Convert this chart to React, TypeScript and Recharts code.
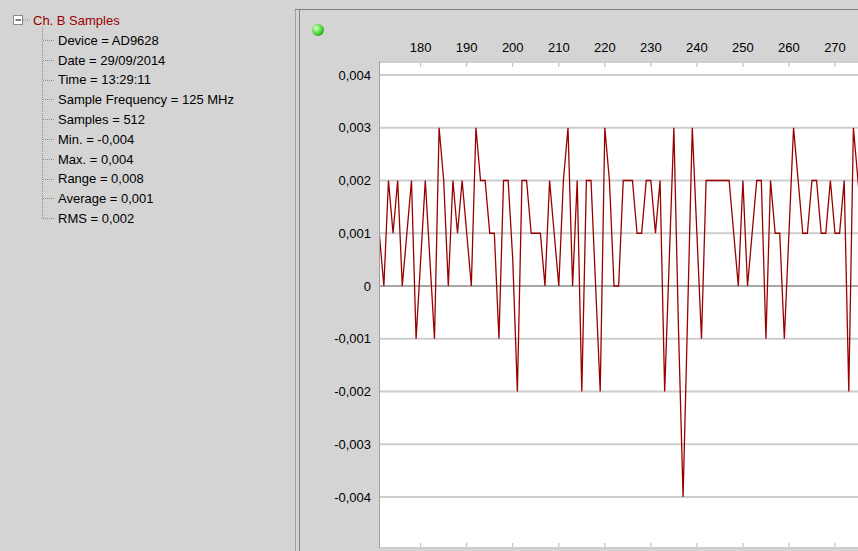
import React from 'react';
import { LineChart, Line, XAxis, YAxis, CartesianGrid, ReferenceLine } from 'recharts';

// Channel B capture, samples 171..276 (volts)
const firstSample = 171;
const sampleValues = [
  0.001, 0, 0.002, 0.001, 0.002, 0, 0.001, 0.002, -0.001, 0.0005,
  0.002, 0.0005, -0.001, 0.003, 0.002, 0, 0.002, 0.001, 0.002, 0.001,
  0, 0.003, 0.002, 0.002, 0.001, 0.001, -0.001, 0.002, 0.002, 0.0005,
  -0.002, 0.002, 0.002, 0.001, 0.001, 0.001, 0, 0.002, 0.001, 0,
  0.002, 0.003, 0, 0.002, -0.002, 0.002, 0.002, 0, -0.002, 0.003,
  0.002, 0, 0, 0.002, 0.002, 0.002, 0.001, 0.001, 0.002, 0.002,
  0.001, 0.002, -0.002, 0.0005, 0.003, -0.0008, -0.004, -0.0005, 0.003, 0.001,
  -0.001, 0.002, 0.002, 0.002, 0.002, 0.002, 0.002, 0.001, 0, 0.002,
  0, 0.001, 0.002, 0.002, -0.001, 0.002, 0.001, 0.001, -0.001, 0.001,
  0.003, 0.002, 0.001, 0.001, 0.002, 0.002, 0.001, 0.001, 0.002, 0.001,
  0.001, 0.002, -0.002, 0.003, 0.002, 0.001,
];
const sampleNumbers = sampleValues.map((_, i) => firstSample + i);

const xTicks = [180, 190, 200, 210, 220, 230, 240, 250, 260, 270];
const yTicks = [0.004, 0.003, 0.002, 0.001, 0, -0.001, -0.002, -0.003, -0.004];

const treeTitle = 'Ch. B Samples';
const treeItems = [
  'Device = AD9628',
  'Date = 29/09/2014',
  'Time = 13:29:11',
  'Sample Frequency = 125 MHz',
  'Samples = 512',
  'Min. = -0,004',
  'Max. = 0,004',
  'Range = 0,008',
  'Average = 0,001',
  'RMS = 0,002',
];

const data = sampleNumbers.map((n, i) => ({ n, v: sampleValues[i] }));

const FONT = '"Liberation Sans", Arial, sans-serif';
const PANEL = '#d4d4d4';

const fmt = (v: number) => (v === 0 ? '0' : v.toFixed(3).replace('.', ','));

// plot frame inside the chart svg: top at 52, bottom at 538
const TopTick = (props: any) => {
  const { x, payload } = props;
  return (
    <g>
      <text x={x} y={42} textAnchor="middle" fontSize={13} fontFamily={FONT} fill="#000">
        {payload.value}
      </text>
      <line x1={x} x2={x} y1={53} y2={57} stroke="#b4b4b4" />
      <line x1={x} x2={x} y1={533} y2={537} stroke="#b4b4b4" />
    </g>
  );
};

const LeftTick = (props: any) => {
  const { y, payload } = props;
  return (
    <text x={71} y={y} dy={4.6} textAnchor="end" fontSize={13} fontFamily={FONT} fill="#000">
      {fmt(payload.value)}
    </text>
  );
};

const TreePanel = () => {
  const rowY = (i: number) => 40 + i * 19.8;
  return (
    <svg width={295} height={551} style={{ position: 'absolute', left: 0, top: 0 }}>
      <rect x={13.5} y={15.5} width={9} height={9} fill="#fff" stroke="#8a8a8a" />
      <line x1={15.5} x2={21} y1={20} y2={20} stroke="#000" />
      <line x1={23} x2={31} y1={20} y2={20} stroke="#8a8a8a" strokeDasharray="1 1" />
      <text x={33} y={24.6} fontSize={13} fontFamily={FONT} fill="#990000">
        {treeTitle}
      </text>
      <line x1={42.5} x2={42.5} y1={27} y2={rowY(treeItems.length - 1)} stroke="#8a8a8a" strokeDasharray="1 1" />
      {treeItems.map((t, i) => (
        <g key={t}>
          <line x1={43} x2={55} y1={Math.round(rowY(i)) + 0.5} y2={Math.round(rowY(i)) + 0.5} stroke="#8a8a8a" strokeDasharray="1 1" />
          <text x={58} y={rowY(i) + 4.7} fontSize={13} fontFamily={FONT} fill="#000">
            {t}
          </text>
        </g>
      ))}
    </svg>
  );
};

export default function App() {
  return (
    <div
      style={{
        position: 'fixed',
        left: 0,
        top: 0,
        width: 858,
        height: 551,
        overflow: 'hidden',
        background: PANEL,
        fontFamily: FONT,
      }}
    >
      <TreePanel />
      {/* splitter and right panel frame */}
      <div style={{ position: 'absolute', left: 295, top: 10, width: 1, height: 541, background: '#a0a0a0' }} />
      <div style={{ position: 'absolute', left: 299, top: 10, width: 1, height: 541, background: '#808080' }} />
      <div style={{ position: 'absolute', left: 295, top: 9, width: 563, height: 1, background: '#808080' }} />
      {/* status lamp */}
      <div
        style={{
          position: 'absolute',
          left: 312,
          top: 24,
          width: 12,
          height: 12,
          borderRadius: '50%',
          background: 'radial-gradient(circle at 35% 35%, #e6ffe0 0%, #6ee85a 35%, #1fae14 75%, #127a0c 100%)',
        }}
      />
      {/* plot background */}
      <div
        style={{
          position: 'absolute',
          left: 379,
          top: 61,
          width: 479,
          height: 487,
          background: '#fff',
          borderLeft: '1px solid #a0a0a0',
          borderTop: '1px solid #a0a0a0',
          borderBottom: '1px solid #a0a0a0',
          boxSizing: 'border-box',
        }}
      />
      <div style={{ position: 'absolute', left: 300, top: 10 }}>
        <LineChart width={558} height={541} data={data} margin={{ top: 22, right: 0, bottom: 3, left: 0 }}>
          <CartesianGrid vertical={false} stroke="#cdcdcd" strokeWidth={2} />
          <XAxis
            dataKey="n"
            type="number"
            orientation="top"
            domain={[171.16, 275.0]}
            ticks={xTicks}
            interval={0}
            allowDataOverflow
            height={30}
            axisLine={false}
            tickLine={false}
            tick={<TopTick />}
          />
          <YAxis
            type="number"
            domain={[-0.004967, 0.004246]}
            ticks={yTicks}
            interval={0}
            allowDataOverflow
            width={80}
            axisLine={false}
            tickLine={false}
            tick={<LeftTick />}
          />
          <ReferenceLine y={0} stroke="#808080" strokeWidth={1.2} />
          <Line
            type="linear"
            dataKey="v"
            stroke="#990000"
            strokeWidth={1.3}
            dot={false}
            activeDot={false}
            isAnimationActive={false}
          />
        </LineChart>
      </div>
    </div>
  );
}
